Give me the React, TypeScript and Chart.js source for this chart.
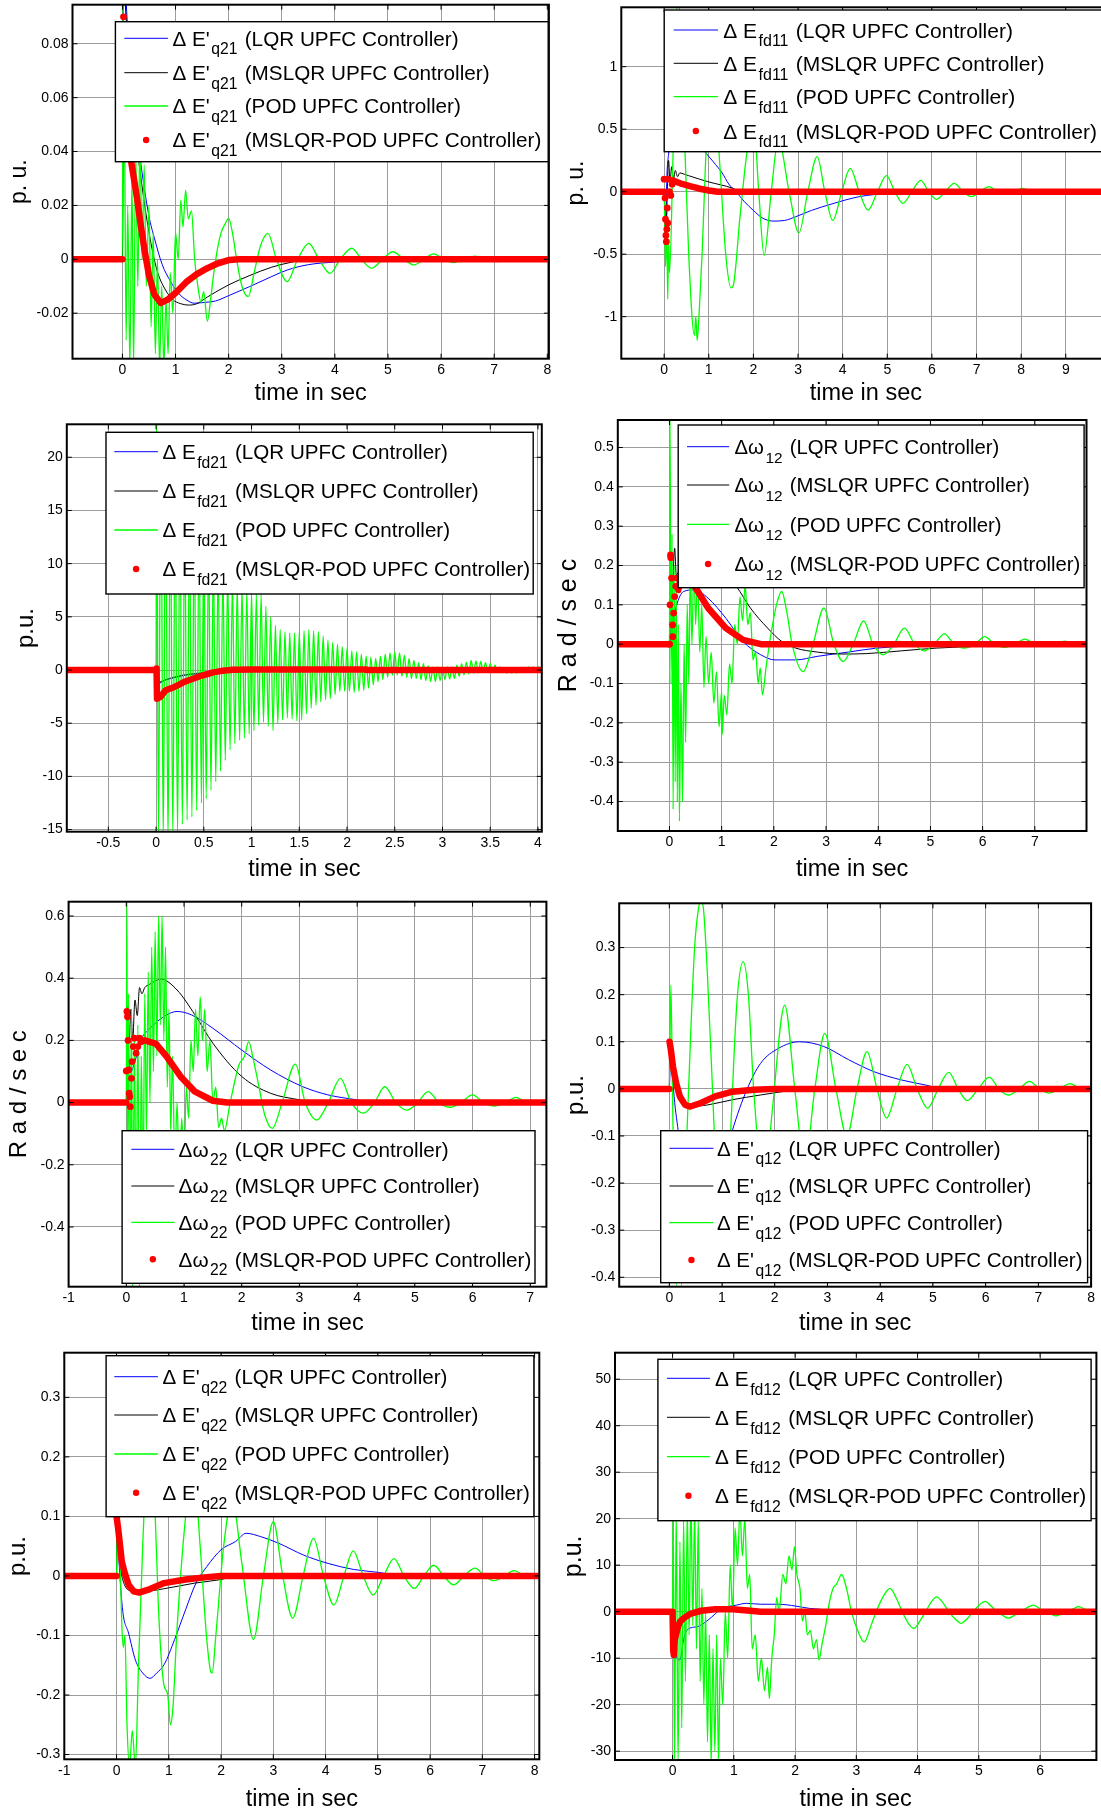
import React, { useEffect, useRef } from 'react';
import { Chart, registerables } from 'chart.js';

Chart.register(...registerables);

type P = [number, number] | null;

const FONT = "'Liberation Sans', Arial, Helvetica, sans-serif";
const controllers = ['LQR UPFC Controller', 'MSLQR UPFC Controller', 'POD UPFC Controller', 'MSLQR-POD UPFC Controller'];
const xAxisTitle = 'time in sec';

// ================= Panel 1 : ΔE'q21 =================
const p1XTicks = [0, 1, 2, 3, 4, 5, 6, 7, 8];
const p1XLabels = ['0', '1', '2', '3', '4', '5', '6', '7', '8'];
const p1YTicks = [-0.02, 0, 0.02, 0.04, 0.06, 0.08];
const p1YLabels = ['-0.02', '0', '0.02', '0.04', '0.06', '0.08'];
const p1Blue: P[] = [[-0.94,0],[0,0],[0.02,0.11],[0.1,0.085],[0.2,0.06],[0.35,0.035],[0.5,0.016],[0.6,0.008],[0.75,-0.002],[0.9,-0.008],[1.05,-0.0125],[1.2,-0.015],[1.35,-0.0163],[1.55,-0.016],[1.75,-0.0155],[2.0,-0.0135],[2.4,-0.0101],[2.8,-0.0065],[3.1,-0.004],[3.5,-0.002],[4.0,-0.001],[4.6,0],[8.03,0]];
const p1Black: P[] = [[-0.94,0],[0,0],[0.02,0.1],[0.1,0.08],[0.2,0.055],[0.35,0.03],[0.5,0.01],[0.65,-0.004],[0.8,-0.011],[0.95,-0.015],[1.1,-0.0165],[1.25,-0.017],[1.4,-0.0165],[1.6,-0.014],[2.0,-0.0095],[2.4,-0.006],[2.8,-0.003],[3.2,-0.001],[3.5,0],[8.03,0]];
const p1Green: P[] = [[-0.94,0],[0,0],[0.01,0.1],[0.04,0.05],[0.07,-0.03],[0.1,0.02],[0.14,-0.04],[0.18,0.03],[0.21,-0.04],[0.25,0.04],[0.29,-0.01],[0.33,0.045],[0.37,0.0],[0.41,0.035],[0.45,-0.01],[0.5,0.02],[0.54,-0.025],[0.58,0.01],[0.62,-0.035],[0.66,0.0],[0.7,-0.04],[0.74,-0.01],[0.78,-0.04],[0.82,-0.015],[0.86,-0.035],[0.9,-0.005],[0.95,-0.02],[1.0,0.01],[1.05,0.0],[1.1,0.022],[1.14,0.012],[1.19,0.0257],[1.24,0.015],[1.3,0.018],[1.36,0.0],[1.42,-0.01],[1.48,-0.016],[1.53,-0.012],[1.6,-0.023],[1.66,-0.015],[1.72,-0.005],[1.8,0.005],[1.86,0.01],[1.93,0.013],[2.0,0.0152],[2.07,0.01],[2.15,0.0],[2.25,-0.01],[2.37,-0.0138],[2.48,-0.005],[2.6,0.005],[2.74,0.0096],[2.9,0.0],[3.1,-0.0083],[3.3,0.0],[3.51,0.0059],[3.7,0.0],[3.91,-0.0052],[4.1,0],[4.32,0.0041],[4.5,0],[4.69,-0.0033],[4.9,0],[5.09,0.0028],[5.3,0],[5.49,-0.0021],[5.68,0],[5.86,0.002],[6.05,0],[6.23,-0.0012],[6.43,0],[6.64,0.0012],[6.84,0],[7.04,-0.0009],[7.2,0],[7.37,0.0007],[7.6,0],[7.8,-0.0005],[8.03,0]];
const p1RedPath: P[] = [[-0.94,0],[0,0],null,[0.15,0.038],[0.2,0.032],[0.28,0.022],[0.35,0.012],[0.42,0.003],[0.5,-0.006],[0.6,-0.013],[0.72,-0.0163],[0.85,-0.015],[1.0,-0.0125],[1.2,-0.0085],[1.4,-0.0055],[1.6,-0.0033],[1.8,-0.0015],[2.0,-0.0003],[2.2,0],[8.03,0]];
const p1RedDots: P[] = [[0.02,0.09],[0.05,0.062],[0.08,0.05],[0.1,0.045],[0.12,0.041]];

// ================= Panel 2 : ΔEfd11 =================
const p2XTicks = [0, 1, 2, 3, 4, 5, 6, 7, 8, 9, 10];
const p2XLabels = ['0', '1', '2', '3', '4', '5', '6', '7', '8', '9', '10'];
const p2YTicks = [-1, -0.5, 0, 0.5, 1];
const p2YLabels = ['-1', '-0.5', '0', '0.5', '1'];
const p2Blue: P[] = [[-0.96,0],[0,0],[0.03,-0.42],[0.06,0.1],[0.1,0.3],[0.2,0.5],[0.35,0.6],[0.6,0.55],[0.9,0.33],[1.1,0.24],[1.3,0.15],[1.45,0.06],[1.61,0],[1.8,-0.08],[2.0,-0.15],[2.2,-0.21],[2.44,-0.235],[2.7,-0.23],[2.95,-0.2],[3.3,-0.15],[3.74,-0.1],[4.37,-0.04],[5.0,-0.013],[5.5,0],[10,0]];
const p2Black: P[] = [[-0.96,0],[0,0],[0.02,-0.2],[0.04,-0.45],[0.07,0.0],[0.1,0.25],[0.13,0.08],[0.17,0.2],[0.21,0.1],[0.25,0.17],[0.3,0.12],[0.35,0.15],[0.45,0.14],[0.55,0.128],[0.98,0.08],[1.54,0.027],[1.7,0],[10,0]];
const p2Green: P[] = [[-0.96,0],[0,0],[0.03,-0.6],[0.06,-0.3],[0.08,-0.86],[0.1,-0.4],[0.12,-0.65],[0.2,0.3],[0.31,1.6],[0.45,0.5],[0.55,-0.5],[0.68,-1.15],[0.71,-1.0],[0.74,-1.19],[0.78,-1.0],[0.85,-0.5],[0.95,0.4],[1.1,0.95],[1.25,0.2],[1.38,-0.5],[1.5,-0.77],[1.55,-0.75],[1.7,-0.2],[1.85,0.3],[2.0,0.6],[2.12,0.0],[2.24,-0.51],[2.4,0.0],[2.56,0.42],[2.8,0.0],[3.02,-0.33],[3.22,0],[3.43,0.28],[3.6,0],[3.78,-0.23],[3.98,0],[4.17,0.187],[4.37,0],[4.57,-0.147],[4.78,0],[4.98,0.128],[5.17,0],[5.35,-0.093],[5.55,0],[5.75,0.09],[5.93,0],[6.1,-0.061],[6.3,0],[6.5,0.067],[6.7,0],[6.89,-0.04],[7.08,0],[7.28,0.04],[7.48,0],[7.68,-0.021],[7.85,0],[8.03,0.027],[8.25,0],[8.46,-0.01],[8.62,0],[8.78,0.015],[9.0,0],[9.2,-0.005],[9.5,0],[10,0]];
const p2RedPath: P[] = [[-0.96,0],[0,0],null,[0.2,0.09],[0.3,0.075],[0.4,0.062],[0.6,0.042],[0.8,0.024],[1.0,0.01],[1.2,0],[10,0]];
const p2RedDots: P[] = [[0.0,0.1],[0.02,-0.05],[0.03,-0.22],[0.04,-0.35],[0.05,-0.4],[0.06,-0.3],[0.07,-0.13],[0.08,-0.25],[0.1,0.1],[0.12,0.0],[0.15,-0.03],[0.18,0.06]];

// ================= Panel 3 : ΔEfd21 =================
const p3XTicks = [-0.5, 0, 0.5, 1, 1.5, 2, 2.5, 3, 3.5, 4];
const p3XLabels = ['-0.5', '0', '0.5', '1', '1.5', '2', '2.5', '3', '3.5', '4'];
const p3YTicks = [-15, -10, -5, 0, 5, 10, 15, 20];
const p3YLabels = ['-15', '-10', '-5', '0', '5', '10', '15', '20'];
const p3Blue: P[] = [[-0.935,0],[0,0],[0.01,-1.3],[0.1,-0.95],[0.2,-0.7],[0.3,-0.5],[0.5,-0.3],[0.8,0],[4.04,0]];
const p3Black: P[] = [[-0.935,0],[0,0],[0.01,-1.2],[0.1,-0.9],[0.2,-0.65],[0.3,-0.45],[0.5,-0.25],[0.8,0],[4.04,0]];
const p3Green: P[] = [[-0.935,0],[0,0],[0.005,25],[0.025,-16],[0.05,22],[0.075,-16],[0.1,19],[0.125,-16],[0.15,17],[0.175,-15.5],[0.2,16],[0.225,-15.5],[0.25,15.5],[0.275,-14.5],[0.3,15],[0.325,-14.1],[0.35,14.5],[0.375,-13.8],[0.4,14],[0.425,-13.2],[0.45,13.5],[0.475,-12.5],[0.5,13],[0.525,-12.1],[0.55,12],[0.575,-11.3],[0.6,11],[0.625,-10.5],[0.65,10],[0.675,-9.5],[0.7,9.5],[0.725,-8.5],[0.75,9],[0.775,-7.5],[0.8,8.5],[0.825,-6.9],[0.85,8],[0.875,-6.6],[0.9,7.8],[0.925,-6.4],[0.95,7.5],[0.975,-6],[1.0,7.3],[1.025,-5.7],[1.05,7.1],[1.075,-5.2],[1.1,7.1],[1.125,-4.9],[1.15,6],[1.175,-5.3],[1.2,5],[1.225,-5.7],[1.25,4.2],[1.275,-5],[1.3,3.8],[1.325,-4.7],[1.35,3.6],[1.375,-4.5],[1.4,3.5],[1.425,-4.6],[1.45,3.5],[1.475,-4.8],[1.5,3.6],[1.525,-4.7],[1.55,3.7],[1.575,-4.1],[1.6,3.8],[1.625,-3.6],[1.65,3.7],[1.675,-3.3],[1.7,3.6],[1.725,-3],[1.75,3.2],[1.775,-2.8],[1.8,2.8],[1.825,-2.7],[1.85,2.6],[1.875,-2.3],[1.9,2.4],[1.925,-2],[1.95,2.2],[1.975,-2],[2.0,2],[2.025,-2],[2.05,1.8],[2.075,-2.1],[2.1,1.7],[2.125,-2],[2.15,1.5],[2.175,-1.9],[2.2,1.3],[2.225,-1.7],[2.25,1.2],[2.275,-1.4],[2.3,1.1],[2.325,-1.1],[2.35,1.3],[2.375,-0.9],[2.4,1.5],[2.425,-0.7],[2.45,1.6],[2.475,-0.5],[2.5,1.7],[2.525,-0.47],[2.55,1.6],[2.575,-0.6],[2.6,1.4],[2.625,-0.7],[2.65,1.1],[2.675,-0.8],[2.7,0.9],[2.725,-0.8],[2.75,0.7],[2.775,-0.9],[2.8,0.6],[2.825,-1],[2.85,0.4],[2.875,-1.1],[2.9,0.3],[2.925,-1.1],[2.95,0.3],[2.975,-1],[3.0,0.3],[3.025,-0.9],[3.05,0.3],[3.075,-0.85],[3.1,0.3],[3.125,-0.8],[3.15,0.45],[3.175,-0.6],[3.2,0.6],[3.225,-0.45],[3.25,0.75],[3.275,-0.35],[3.3,0.9],[3.325,-0.3],[3.35,0.85],[3.375,-0.25],[3.4,0.8],[3.425,-0.2],[3.45,0.7],[3.475,-0.2],[3.5,0.6],[3.525,-0.2],[3.55,0.45],[3.575,-0.22],[3.6,0.3],[3.625,-0.25],[3.65,0.2],[3.675,-0.28],[3.7,0.1],[3.725,-0.3],[3.75,0.15],[3.775,-0.28],[3.8,0.2],[3.825,-0.25],[3.85,0.25],[3.875,-0.22],[3.9,0.3],[3.925,-0.2],[3.95,0.3],[3.975,-0.18],[4.0,0.3],[4.04,0]];
const p3RedPath: P[] = [[-0.935,0],[0,0],[0.005,0.15],[0.01,-2.7],[0.05,-2.5],[0.1,-1.9],[0.2,-1.57],[0.3,-1.1],[0.4,-0.78],[0.5,-0.47],[0.6,-0.22],[0.7,-0.06],[0.8,0.03],[1.0,0.05],[2.2,0.05],[2.2,0],[4.04,0]];
const p3RedDots: P[] = [];

// ================= Panel 4 : Δω12 =================
const p4XTicks = [0, 1, 2, 3, 4, 5, 6, 7];
const p4XLabels = ['0', '1', '2', '3', '4', '5', '6', '7'];
const p4YTicks = [-0.4, -0.3, -0.2, -0.1, 0, 0.1, 0.2, 0.3, 0.4, 0.5];
const p4YLabels = ['-0.4', '-0.3', '-0.2', '-0.1', '0', '0.1', '0.2', '0.3', '0.4', '0.5'];
const p4Blue: P[] = [[-0.99,0],[0,0],[0.03,0.03],[0.13,0.096],[0.27,0.134],[0.47,0.138],[0.74,0.117],[1.08,0.066],[1.41,0.007],[1.75,-0.027],[2.02,-0.04],[2.42,-0.04],[2.83,-0.031],[3.43,-0.02],[3.97,-0.01],[4.5,-0.005],[5.0,0],[7.99,0]];
const p4Black: P[] = [[-0.99,0],[0,0],[0.05,0.1],[0.1,0.244],[0.13,0.176],[0.2,0.19],[0.4,0.2],[0.7,0.2],[1.0,0.185],[1.28,0.147],[1.55,0.092],[1.88,0.041],[2.15,0.007],[2.42,-0.01],[2.83,-0.02],[3.3,-0.025],[3.77,-0.024],[4.44,-0.017],[5.11,-0.01],[5.79,-0.006],[6.5,-0.002],[7.0,0],[7.99,0]];
const p4Green: P[] = [[-0.99,0],[0,0],[0.01,0.6],[0.03,-0.1],[0.05,0.28],[0.07,-0.42],[0.09,0.2],[0.11,-0.35],[0.13,0.15],[0.15,-0.4],[0.17,0.05],[0.19,-0.45],[0.22,-0.1],[0.25,-0.4],[0.28,0.0],[0.31,-0.25],[0.34,0.1],[0.37,-0.1],[0.4,0.2],[0.43,0.0],[0.47,0.22],[0.5,0.05],[0.54,0.18],[0.58,-0.02],[0.62,0.1],[0.66,-0.11],[0.7,0.02],[0.75,-0.1],[0.8,-0.02],[0.85,-0.15],[0.9,-0.07],[0.95,-0.21],[1.0,-0.12],[1.01,-0.23],[1.05,-0.13],[1.1,-0.18],[1.15,-0.05],[1.2,-0.1],[1.25,0.05],[1.3,0.0],[1.35,0.12],[1.4,0.06],[1.45,0.15],[1.5,0.05],[1.55,0.08],[1.6,-0.04],[1.65,-0.02],[1.7,-0.1],[1.74,-0.06],[1.78,-0.129],[1.85,-0.06],[1.95,0.03],[2.05,0.1],[2.15,0.134],[2.25,0.08],[2.35,0.0],[2.56,-0.07],[2.75,0.0],[2.96,0.092],[3.15,0.0],[3.33,-0.044],[3.52,0],[3.72,0.059],[3.9,0],[4.1,-0.027],[4.3,0],[4.5,0.041],[4.7,0],[4.88,-0.017],[5.07,0],[5.27,0.026],[5.45,0],[5.65,-0.01],[5.85,0],[6.04,0.019],[6.23,0],[6.43,-0.008],[6.62,0],[6.81,0.013],[7.0,0],[7.2,-0.005],[7.38,0],[7.57,0.008],[7.78,0]];
const p4RedPath: P[] = [[-0.99,0],[0,0],null,[0.17,0.138],[0.2,0.16],[0.27,0.172],[0.4,0.16],[0.47,0.15],[0.74,0.092],[1.08,0.041],[1.41,0.011],[1.75,0],[7.99,0]];
const p4RedDots: P[] = [[0.0,0.0],[0.01,0.1],[0.02,0.227],[0.025,0.22],[0.04,0.168],[0.06,0.049],[0.065,0.019],[0.08,0.079],[0.1,0.121],[0.12,0.147],[0.14,0.168]];

// ================= Panel 5 : Δω22 =================
const p5XTicks = [-1, 0, 1, 2, 3, 4, 5, 6, 7];
const p5XLabels = ['-1', '0', '1', '2', '3', '4', '5', '6', '7'];
const p5YTicks = [-0.4, -0.2, 0, 0.2, 0.4, 0.6];
const p5YLabels = ['-0.4', '-0.2', '0', '0.2', '0.4', '0.6'];
const p5Blue: P[] = [[-1,0],[0,0],[0.01,0.25],[0.04,0.15],[0.08,0.1],[0.14,0.126],[0.25,0.2],[0.385,0.234],[0.7,0.282],[0.88,0.293],[1.13,0.282],[1.5,0.239],[2.0,0.169],[2.5,0.105],[3.06,0.051],[3.49,0.025],[3.99,0.009],[4.3,0],[7.28,0]];
const p5Black: P[] = [[-1,0],[0,0],[0.02,0.31],[0.05,0.2],[0.08,0.3],[0.11,0.2],[0.15,0.33],[0.19,0.28],[0.23,0.37],[0.27,0.35],[0.32,0.37],[0.4,0.38],[0.6,0.397],[0.88,0.362],[1.19,0.282],[1.5,0.191],[2.0,0.084],[2.5,0.03],[3.0,0.009],[3.3,0],[7.28,0]];
const p5Green: P[] = [[-1,0],[0,0],[0.01,0.7],[0.02,-0.2],[0.04,0.35],[0.06,-0.55],[0.09,0.3],[0.11,-0.6],[0.14,0.2],[0.17,-0.4],[0.2,0.25],[0.23,-0.6],[0.26,0.15],[0.29,-0.3],[0.32,0.35],[0.35,-0.1],[0.38,0.42],[0.41,0.0],[0.44,0.5],[0.47,0.1],[0.5,0.55],[0.53,0.15],[0.56,0.6],[0.59,0.25],[0.62,0.6],[0.65,0.2],[0.68,0.5],[0.71,0.05],[0.74,0.3],[0.77,-0.1],[0.8,0.15],[0.84,-0.2],[0.88,0.0],[0.92,-0.25],[0.96,-0.05],[1.0,-0.2],[1.04,0.05],[1.08,-0.05],[1.12,0.2],[1.16,0.1],[1.2,0.3],[1.24,0.15],[1.28,0.34],[1.32,0.2],[1.36,0.3],[1.4,0.1],[1.45,0.2],[1.5,0.0],[1.55,0.05],[1.6,-0.08],[1.65,-0.05],[1.7,-0.09],[1.8,0.0],[1.95,0.12],[2.05,0.15],[2.12,0.196],[2.2,0.14],[2.3,0.05],[2.4,-0.04],[2.53,-0.083],[2.7,0.0],[2.93,0.124],[3.1,0.0],[3.3,-0.056],[3.5,0],[3.71,0.078],[3.9,0],[4.11,-0.034],[4.3,0],[4.48,0.051],[4.67,0],[4.86,-0.024],[5.05,0],[5.23,0.035],[5.42,0],[5.61,-0.015],[5.8,0],[6.0,0.025],[6.19,0],[6.38,-0.011],[6.57,0],[6.75,0.017],[6.93,0],[7.1,-0.006],[7.28,0]];
const p5RedPath: P[] = [[-1,0],[0,0],null,[0.28,0.2],[0.32,0.2],[0.51,0.19],[0.7,0.148],[0.94,0.084],[1.19,0.035],[1.5,0.006],[1.75,0],[7.28,0]];
const p5RedDots: P[] = [[0.0,0.102],[0.01,0.293],[0.02,0.276],[0.03,0.2],[0.04,0.105],[0.05,0.03],[0.06,0.019],[0.07,-0.013],[0.09,0.078],[0.1,0.132],[0.12,0.18],[0.14,0.207],[0.17,0.159],[0.2,0.18],[0.23,0.207],[0.26,0.196]];

// ================= Panel 6 : ΔE'q12 =================
const p6XTicks = [0, 1, 2, 3, 4, 5, 6, 7, 8];
const p6XLabels = ['0', '1', '2', '3', '4', '5', '6', '7', '8'];
const p6YTicks = [-0.4, -0.3, -0.2, -0.1, 0, 0.1, 0.2, 0.3];
const p6YLabels = ['-0.4', '-0.3', '-0.2', '-0.1', '0', '0.1', '0.2', '0.3'];
const p6Blue: P[] = [[-0.95,0],[0,0],[0.03,0.1],[0.08,0.0],[0.17,-0.09],[0.3,-0.2],[0.5,-0.27],[0.65,-0.28],[0.85,-0.24],[1.05,-0.15],[1.2,-0.087],[1.47,-0.002],[1.73,0.054],[2.07,0.086],[2.47,0.1],[2.93,0.09],[3.4,0.062],[3.87,0.037],[4.4,0.019],[4.87,0.008],[5.2,0],[8,0]];
const p6Black: P[] = [[-0.95,0],[0,0],[0.005,0.1],[0.05,0.05],[0.15,-0.005],[0.3,-0.035],[0.4,-0.0375],[0.73,-0.034],[1.2,-0.023],[1.73,-0.013],[2.4,-0.002],[2.6,0],[8,0]];
const p6Green: P[] = [[-0.95,0],[0,0],[0.03,0.22],[0.06,0.0],[0.1,-0.3],[0.15,-0.43],[0.22,-0.43],[0.3,-0.2],[0.4,0.1],[0.48,0.3],[0.55,0.38],[0.6,0.4],[0.65,0.38],[0.72,0.25],[0.8,0.05],[0.9,-0.2],[1.0,-0.33],[1.08,-0.3],[1.18,-0.05],[1.28,0.18],[1.4,0.27],[1.5,0.2],[1.6,0.0],[1.8,-0.22],[1.95,-0.05],[2.19,0.178],[2.38,0.0],[2.57,-0.16],[2.76,0],[2.95,0.118],[3.16,0],[3.37,-0.1],[3.56,0],[3.75,0.079],[3.94,0],[4.12,-0.062],[4.32,0],[4.51,0.052],[4.7,0],[4.9,-0.041],[5.1,0],[5.3,0.035],[5.48,0],[5.65,-0.025],[5.86,0],[6.07,0.025],[6.25,0],[6.43,-0.013],[6.64,0],[6.83,0.016],[7.02,0],[7.2,-0.009],[7.4,0],[7.6,0.011],[7.8,0],[8,-0.005]];
const p6RedPath: P[] = [[-0.95,0],[0,0],null,[0.005,0.1],[0.03,0.083],[0.07,0.047],[0.13,0.012],[0.2,-0.016],[0.3,-0.034],[0.4,-0.0375],[0.6,-0.03],[0.87,-0.016],[1.2,-0.006],[1.6,-0.002],[2.0,0],[8,0]];
const p6RedDots: P[] = [];

// ================= Panel 7 : ΔE'q22 =================
const p7XTicks = [-1, 0, 1, 2, 3, 4, 5, 6, 7, 8];
const p7XLabels = ['-1', '0', '1', '2', '3', '4', '5', '6', '7', '8'];
const p7YTicks = [-0.3, -0.2, -0.1, 0, 0.1, 0.2, 0.3];
const p7YLabels = ['-0.3', '-0.2', '-0.1', '0', '0.1', '0.2', '0.3'];
const p7Blue: P[] = [[-1,0],[0,0],[0.01,0.1],[0.05,0.02],[0.12,-0.06],[0.23,-0.096],[0.36,-0.141],[0.5,-0.163],[0.64,-0.172],[0.77,-0.163],[0.91,-0.149],[1.11,-0.107],[1.32,-0.057],[1.52,-0.012],[1.73,0.016],[2.0,0.044],[2.28,0.058],[2.48,0.0716],[2.76,0.066],[3.1,0.055],[3.58,0.035],[4.05,0.021],[4.53,0.011],[5.01,0.006],[5.5,0],[8.09,0]];
const p7Black: P[] = [[-1,0],[0,0],[0.01,0.1],[0.1,0.0],[0.3,-0.025],[0.6,-0.025],[1.0,-0.02],[1.5,-0.012],[2.0,-0.006],[2.3,0],[8.09,0]];
const p7Green: P[] = [[-1,0],[0,0],[0.02,0.15],[0.06,0.05],[0.1,-0.08],[0.13,-0.12],[0.16,-0.1],[0.2,-0.25],[0.25,-0.32],[0.3,-0.26],[0.36,-0.32],[0.42,-0.15],[0.5,0.05],[0.58,0.2],[0.65,0.25],[0.72,0.15],[0.8,-0.05],[0.9,-0.18],[0.98,-0.2],[1.03,-0.25],[1.08,-0.22],[1.15,-0.1],[1.3,0.08],[1.4,0.15],[1.49,0.16],[1.6,0.05],[1.72,-0.1],[1.8,-0.16],[1.83,-0.163],[1.9,-0.1],[2.05,0.05],[2.21,0.13],[2.4,0.02],[2.62,-0.107],[2.81,0],[3.0,0.091],[3.18,0],[3.37,-0.071],[3.57,0],[3.77,0.063],[3.96,0],[4.16,-0.049],[4.35,0],[4.53,0.042],[4.72,0],[4.91,-0.032],[5.11,0],[5.31,0.029],[5.5,0],[5.7,-0.021],[5.88,0],[6.07,0.018],[6.26,0],[6.45,-0.015],[6.65,0],[6.86,0.013],[7.04,0],[7.23,-0.008],[7.42,0],[7.61,0.009],[7.8,0],[8.0,-0.004]];
const p7RedPath: P[] = [[-1,0],[0,0],null,[0.0,0.0996],[0.03,0.08],[0.07,0.049],[0.1,0.024],[0.16,0.004],[0.23,-0.015],[0.33,-0.026],[0.43,-0.028],[0.64,-0.022],[0.91,-0.012],[1.32,-0.006],[1.73,-0.002],[2.0,0],[8.09,0]];
const p7RedDots: P[] = [];

// ================= Panel 8 : ΔEfd12 =================
const p8XTicks = [0, 1, 2, 3, 4, 5, 6];
const p8XLabels = ['0', '1', '2', '3', '4', '5', '6'];
const p8YTicks = [-30, -20, -10, 0, 10, 20, 30, 40, 50];
const p8YLabels = ['-30', '-20', '-10', '0', '10', '20', '30', '40', '50'];
const p8Blue: P[] = [[-0.94,0],[0,0],[0.02,-3.9],[0.05,-9.3],[0.12,-10.4],[0.18,-6],[0.24,-3.9],[0.41,-3.2],[0.58,-1.8],[0.81,0.7],[1.04,1.4],[1.21,1.8],[1.44,1.6],[1.73,1.6],[2.01,1.2],[2.24,0.7],[2.42,0.5],[2.6,0],[6.92,0]];
const p8Black: P[] = [[-0.94,0],[0,0],[0.02,-8],[0.1,-3],[0.2,-1],[0.4,0],[0.6,0.3],[1.0,0.4],[1.5,0.2],[2,0],[6.92,0]];
const p8Green: P[] = [[-0.94,0],[0,0],[0.01,25],[0.03,-32],[0.06,22],[0.09,-33],[0.12,15],[0.15,-25],[0.18,20],[0.21,-15],[0.24,22],[0.27,-5],[0.3,25],[0.33,-3],[0.36,22],[0.39,-8],[0.42,20],[0.45,-15],[0.48,5],[0.51,-20],[0.54,0],[0.57,-28],[0.6,-5],[0.63,-32],[0.66,-8],[0.69,-30],[0.72,-5],[0.75,-33],[0.78,-10],[0.82,-20],[0.86,0],[0.9,-10],[0.94,10],[0.98,0],[1.02,18],[1.06,10],[1.1,22],[1.14,12],[1.18,20],[1.22,5],[1.26,8],[1.3,-8],[1.35,-5],[1.4,-15],[1.45,-10],[1.5,-17],[1.55,-12],[1.58,-18.7],[1.62,-10],[1.66,-5],[1.7,3],[1.74,0],[1.8,8],[1.85,6],[1.9,12],[1.95,9],[1.99,14],[2.03,8],[2.08,5],[2.12,-2],[2.16,0],[2.2,-5],[2.25,-4],[2.3,-8],[2.35,-6],[2.39,-10.4],[2.44,-7],[2.5,-3],[2.56,2],[2.62,5],[2.68,6],[2.76,8],[2.84,5],[2.92,0],[3.02,-4],[3.13,-6.5],[3.24,-3],[3.34,0.5],[3.45,3.5],[3.55,5],[3.65,3],[3.75,0],[3.85,-2.5],[3.94,-3.6],[4.04,-2],[4.13,0],[4.22,2],[4.31,3.2],[4.41,2],[4.51,0],[4.61,-1.5],[4.71,-2.5],[4.81,-1.5],[4.91,0],[5.01,1.5],[5.11,2.2],[5.2,1.2],[5.3,0],[5.39,-0.8],[5.48,-1.4],[5.58,-0.8],[5.68,0],[5.78,0.8],[5.89,1.4],[5.98,0.8],[6.07,0],[6.17,-0.5],[6.26,-0.9],[6.35,-0.5],[6.44,0],[6.54,0.6],[6.63,1.1],[6.72,0.6],[6.81,0],[6.92,-0.5]];
const p8RedPath: P[] = [[-0.94,0],[0,0],[0.01,-8.25],[0.02,-9.3],[0.035,-6.1],[0.06,-4.7],[0.09,-3.2],[0.12,-2.2],[0.18,-1.4],[0.3,-0.4],[0.47,0.2],[0.7,0.5],[0.98,0.5],[1.27,0.2],[1.44,0],[6.92,0]];
const p8RedDots: P[] = [];

// ================= Layout (page pixels) =================
const panels: any[] = [
  { xMin: -0.94, xMax: 8.03, yMin: -0.0369, yMax: 0.0945, xTicks: p1XTicks, xLabels: p1XLabels, yTicks: p1YTicks, yLabels: p1YLabels,
    yTitle: 'p. u.', prefix: "Δ E'", sub: 'q21', blue: p1Blue, black: p1Black, green: p1Green, redPath: p1RedPath, redDots: p1RedDots,
    box: { plotL: 72.5, plotT: 4.7, plotR: 548.9, plotB: 358.7, canvasL: 0, yTitleX: 19.6, xTitleY: 393.3, yTitleSize: 23, xTitleSize: 23.5 },
    leg: { l: 115.4, t: 21.7, r: 548.2, b: 161.7, rows: [38.3, 72.7, 106, 140], lx1: 124.3, lx2: 167.9, tx: 172.5, fs: 20.7 } },
  { xMin: -0.96, xMax: 10, yMin: -1.336, yMax: 1.475, xTicks: p2XTicks, xLabels: p2XLabels, yTicks: p2YTicks, yLabels: p2YLabels,
    yTitle: 'p. u.', prefix: 'Δ E', sub: 'fd11', blue: p2Blue, black: p2Black, green: p2Green, redPath: p2RedPath, redDots: p2RedDots,
    box: { plotL: 621.3, plotT: 7.3, plotR: 1110.4, plotB: 358.7, canvasL: 550, yTitleX: 576.4, xTitleY: 393.3, yTitleSize: 23, xTitleSize: 23.5 },
    leg: { l: 664.2, t: 10, r: 1106, b: 151.7, rows: [30, 63.3, 96.7, 131], lx1: 673.7, lx2: 718, tx: 723.2, fs: 21 } },
  { xMin: -0.935, xMax: 4.04, yMin: -15.2, yMax: 23.1, xTicks: p3XTicks, xLabels: p3XLabels, yTicks: p3YTicks, yLabels: p3YLabels,
    yTitle: 'p.u.', prefix: 'Δ E', sub: 'fd21', blue: p3Blue, black: p3Black, green: p3Green, redPath: p3RedPath, redDots: p3RedDots,
    box: { plotL: 66.8, plotT: 424.3, plotR: 541.8, plotB: 831.7, canvasL: 0, yTitleX: 26.8, xTitleY: 870, yTitleSize: 24, xTitleSize: 23.5 },
    leg: { l: 106, t: 432.3, r: 533.2, b: 594, rows: [451.7, 491, 530, 569], lx1: 114.3, lx2: 157.9, tx: 162.5, fs: 20.6 } },
  { xMin: -0.99, xMax: 7.99, yMin: -0.475, yMax: 0.570, xTicks: p4XTicks, xLabels: p4XLabels, yTicks: p4YTicks, yLabels: p4YLabels,
    yTitle: 'R a d / s e c', prefix: 'Δω', sub: '12', blue: p4Blue, black: p4Black, green: p4Green, redPath: p4RedPath, redDots: p4RedDots,
    box: { plotL: 617.8, plotT: 420, plotR: 1086.5, plotB: 831, canvasL: 550, yTitleX: 569.3, xTitleY: 870, yTitleSize: 25, xTitleSize: 23.5 },
    leg: { l: 678.2, t: 425, r: 1084.1, b: 587.7, rows: [446.7, 485, 524.3, 564], lx1: 687, lx2: 729.2, tx: 734.5, fs: 20.3 } },
  { xMin: -1, xMax: 7.28, yMin: -0.592, yMax: 0.646, xTicks: p5XTicks, xLabels: p5XLabels, yTicks: p5YTicks, yLabels: p5YLabels,
    yTitle: 'R a d / s e c', prefix: 'Δω', sub: '22', blue: p5Blue, black: p5Black, green: p5Green, redPath: p5RedPath, redDots: p5RedDots,
    box: { plotL: 68.6, plotT: 901.7, plotR: 546.4, plotB: 1286.7, canvasL: 0, yTitleX: 19.6, xTitleY: 1323.3, yTitleSize: 24, xTitleSize: 23.5 },
    leg: { l: 122.1, t: 1130.7, r: 535, b: 1283.3, rows: [1149.3, 1186, 1222.3, 1259.3], lx1: 131.4, lx2: 174.3, tx: 178.6, fs: 20.7 } },
  { xMin: -0.95, xMax: 8, yMin: -0.42, yMax: 0.394, xTicks: p6XTicks, xLabels: p6XLabels, yTicks: p6YTicks, yLabels: p6YLabels,
    yTitle: 'p.u.', prefix: "Δ E'", sub: 'q12', blue: p6Blue, black: p6Black, green: p6Green, redPath: p6RedPath, redDots: p6RedDots,
    box: { plotL: 619.2, plotT: 903.3, plotR: 1091.1, plotB: 1286.7, canvasL: 550, yTitleX: 576.4, xTitleY: 1323.3, yTitleSize: 24, xTitleSize: 23.5 },
    leg: { l: 660.7, t: 1130.7, r: 1087.6, b: 1282.7, rows: [1148.3, 1186, 1222.7, 1260], lx1: 669.5, lx2: 713.4, tx: 716.9, fs: 20.5 } },
  { xMin: -1, xMax: 8.09, yMin: -0.308, yMax: 0.375, xTicks: p7XTicks, xLabels: p7XLabels, yTicks: p7YTicks, yLabels: p7YLabels,
    yTitle: 'p.u.', prefix: "Δ E'", sub: 'q22', blue: p7Blue, black: p7Black, green: p7Green, redPath: p7RedPath, redDots: p7RedDots,
    box: { plotL: 64.3, plotT: 1352.7, plotR: 539.3, plotB: 1759.3, canvasL: 0, yTitleX: 17.9, xTitleY: 1799.3, yTitleSize: 24, xTitleSize: 23.5 },
    leg: { l: 106.1, t: 1355.7, r: 533.9, b: 1516.7, rows: [1376.7, 1415, 1454, 1492.7], lx1: 114.3, lx2: 157.9, tx: 162.5, fs: 20.6 } },
  { xMin: -0.94, xMax: 6.92, yMin: -31.9, yMax: 55.7, xTicks: p8XTicks, xLabels: p8XLabels, yTicks: p8YTicks, yLabels: p8YLabels,
    yTitle: 'p.u.', prefix: 'Δ E', sub: 'fd12', blue: p8Blue, black: p8Black, green: p8Green, redPath: p8RedPath, redDots: p8RedDots,
    box: { plotL: 615, plotT: 1352.7, plotR: 1096.4, plotB: 1760, canvasL: 550, yTitleX: 574.6, xTitleY: 1799.3, yTitleSize: 25, xTitleSize: 23.5 },
    leg: { l: 657.9, t: 1359.3, r: 1091.1, b: 1520.7, rows: [1378.3, 1417.3, 1456.7, 1495.7], lx1: 667, lx2: 709.9, tx: 715.1, fs: 20.8 } },
];

function geom(b: any) {
  const x = Math.round(b.canvasL);
  const y = Math.floor(b.plotT - 8);
  const right = Math.ceil(b.plotR + 10);
  const w = right - x;
  const lhX = 1.2 * b.xTitleSize;
  const bottom = Math.ceil(b.xTitleY + lhX / 2 + 1);
  const h = bottom - y;
  return {
    x, y, w, h,
    padTop: b.plotT - y,
    padRight: right - b.plotR,
    yAxisW: b.plotL - x,
    xAxisH: bottom - b.plotB,
    yTitlePad: Math.max(0, b.yTitleX - x - 0.6 * b.yTitleSize),
    xTitlePad: Math.max(0, bottom - b.xTitleY - lhX / 2),
  };
}

function toXY(arr: P[]) {
  const out: any[] = [];
  let lastX = 0;
  for (const p of arr) {
    if (p) { out.push({ x: p[0], y: p[1] }); lastX = p[0]; }
    else out.push({ x: lastX, y: null });
  }
  return out;
}

const lineColors = ['#0000ff', '#000000', '#00ff00'];
const lineWidths = [1, 1, 1.3];
const GRID = '#9c9c9c';

function Panel({ s }: { s: any }) {
  const ref = useRef<HTMLCanvasElement>(null);
  const g = geom(s.box);
  useEffect(() => {
    const canvas = ref.current;
    if (!canvas) return;
    const decor = {
      id: 'matlabDecor',
      afterDraw(chart: any) {
        const ctx = chart.ctx;
        const a = chart.chartArea;
        const sx = chart.scales.x;
        const sy = chart.scales.y;
        ctx.save();
        // inward tick marks on all four sides
        ctx.strokeStyle = '#000';
        ctx.lineWidth = 1;
        ctx.beginPath();
        for (const v of s.xTicks) {
          const px = sx.getPixelForValue(v);
          if (px < a.left - 0.5 || px > a.right + 0.5) continue;
          ctx.moveTo(px, a.bottom); ctx.lineTo(px, a.bottom - 5);
          ctx.moveTo(px, a.top); ctx.lineTo(px, a.top + 5);
        }
        for (const v of s.yTicks) {
          const py = sy.getPixelForValue(v);
          if (py < a.top - 0.5 || py > a.bottom + 0.5) continue;
          ctx.moveTo(a.left, py); ctx.lineTo(a.left + 5, py);
          ctx.moveTo(a.right, py); ctx.lineTo(a.right - 5, py);
        }
        ctx.stroke();
        // axes box
        ctx.lineWidth = 2;
        ctx.strokeRect(a.left, a.top, a.right - a.left, a.bottom - a.top);
        // legend
        const L = s.leg;
        const ox = g.x, oy = g.y;
        ctx.fillStyle = '#ffffff';
        ctx.fillRect(L.l - ox, L.t - oy, L.r - L.l, L.b - L.t);
        ctx.strokeStyle = '#000';
        ctx.lineWidth = 1.4;
        ctx.strokeRect(L.l - ox, L.t - oy, L.r - L.l, L.b - L.t);
        const fs = L.fs;
        const ss = Math.round(fs * 0.76 * 10) / 10;
        for (let i = 0; i < 4; i++) {
          const ry = L.rows[i] - oy;
          if (i < 3) {
            ctx.strokeStyle = lineColors[i];
            ctx.lineWidth = lineWidths[i];
            ctx.beginPath();
            ctx.moveTo(L.lx1 - ox, ry);
            ctx.lineTo(L.lx2 - ox, ry);
            ctx.stroke();
          } else {
            ctx.fillStyle = '#ff0000';
            ctx.beginPath();
            ctx.arc((L.lx1 + L.lx2) / 2 - ox, ry, 3.2, 0, Math.PI * 2);
            ctx.fill();
          }
          ctx.fillStyle = '#000';
          ctx.textAlign = 'left';
          ctx.textBaseline = 'alphabetic';
          const base = ry + fs * 0.36;
          let tx = L.tx - ox;
          ctx.font = `${fs}px ${FONT}`;
          ctx.fillText(s.prefix, tx, base);
          tx += ctx.measureText(s.prefix).width + 1.5;
          ctx.font = `${ss}px ${FONT}`;
          ctx.fillText(s.sub, tx, base + fs * 0.42);
          tx += ctx.measureText(s.sub).width + 1.5;
          ctx.font = `${fs}px ${FONT}`;
          ctx.fillText(' (' + controllers[i] + ')', tx, base);
        }
        ctx.restore();
      },
    };
    const lineDs = (label: string, data: P[], color: string, width: number, order: number) => ({
      label, data: toXY(data), showLine: true, borderColor: color, backgroundColor: color,
      borderWidth: width, pointRadius: 0, pointHoverRadius: 0, cubicInterpolationMode: 'monotone', spanGaps: false, order,
    });
    const chart = new Chart(canvas, {
      type: 'scatter',
      data: {
        datasets: [
          { label: 'MSLQR-POD', data: toXY(s.redPath), showLine: true, borderColor: '#ff0000', backgroundColor: '#ff0000',
            borderWidth: 6.5, pointRadius: 0, pointHoverRadius: 0, borderCapStyle: 'round', borderJoinStyle: 'round', spanGaps: false, order: 0 },
          { label: 'MSLQR-POD dots', data: toXY(s.redDots), showLine: false, pointRadius: 3.4, pointHoverRadius: 0,
            pointBackgroundColor: '#ff0000', pointBorderWidth: 0, pointBorderColor: '#ff0000', order: 0 },
          lineDs('POD', s.green, '#00ff00', 1.3, 1),
          lineDs('MSLQR', s.black, '#000000', 1, 2),
          lineDs('LQR', s.blue, '#0000ff', 1, 3),
        ],
      } as any,
      options: {
        animation: false,
        responsive: false,
        devicePixelRatio: 1,
        events: [],
        layout: { padding: { left: 0, top: g.padTop, right: g.padRight, bottom: 0 } },
        plugins: { legend: { display: false }, tooltip: { enabled: false } },
        scales: {
          x: {
            type: 'linear', position: 'bottom', min: s.xMin, max: s.xMax,
            afterBuildTicks: (ax: any) => { ax.ticks = s.xTicks.map((v: number) => ({ value: v })); },
            afterFit: (ax: any) => { ax.height = g.xAxisH; ax.paddingLeft = 0; ax.paddingRight = 0; },
            ticks: { autoSkip: false, maxRotation: 0, minRotation: 0, padding: 3, color: '#000',
              font: { family: FONT, size: 14 }, callback: (_v: any, i: number) => s.xLabels[i] },
            grid: { color: GRID, lineWidth: 1, drawTicks: false },
            border: { display: false },
            title: { display: true, text: xAxisTitle, color: '#000', font: { family: FONT, size: s.box.xTitleSize },
              padding: { top: 0, bottom: g.xTitlePad } },
          },
          y: {
            type: 'linear', position: 'left', min: s.yMin, max: s.yMax,
            afterBuildTicks: (ax: any) => { ax.ticks = s.yTicks.map((v: number) => ({ value: v })); },
            afterFit: (ax: any) => { ax.width = g.yAxisW; ax.paddingTop = 0; ax.paddingBottom = 0; },
            ticks: { autoSkip: false, padding: 4, color: '#000',
              font: { family: FONT, size: 14 }, callback: (_v: any, i: number) => s.yLabels[i] },
            grid: { color: GRID, lineWidth: 1, drawTicks: false },
            border: { display: false },
            title: { display: true, text: s.yTitle, color: '#000', font: { family: FONT, size: s.box.yTitleSize },
              padding: { top: g.yTitlePad, bottom: 0 } },
          },
        },
      } as any,
      plugins: [decor],
    });
    return () => chart.destroy();
  }, []);
  return (
    <canvas ref={ref} width={g.w} height={g.h}
      style={{ position: 'absolute', left: g.x, top: g.y, width: g.w, height: g.h, display: 'block' }} />
  );
}

export default function App() {
  return (
    <div style={{ position: 'absolute', left: 0, top: 0, width: 1101, height: 1811, overflow: 'hidden', background: '#ffffff' }}>
      {panels.map((s, i) => <Panel key={i} s={s} />)}
    </div>
  );
}
